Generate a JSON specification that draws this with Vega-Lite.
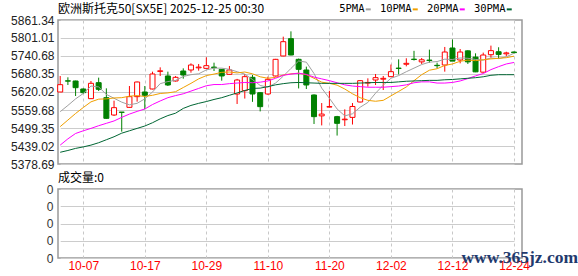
{
  "$schema": "https://vega.github.io/schema/vega-lite/v6.json",
  "background": "white",
  "padding": {"left": 9, "top": 2, "right": 0, "bottom": 0},
  "autosize": {"type": "pad"},
  "bounds": "flush",
  "spacing": 25,
  "config": {
    "font": "Liberation Sans",
    "view": {"stroke": "#999999", "strokeWidth": 1.5},
    "axis": {"titleFontSize": 0, "labelOverlap": false},
    "axisY": {"labelOverlap": false}
  },
  "datasets": {
    "k": [
      {"d":"10-02","o":5620.0,"h":5673.7,"l":5619.0,"c":5644.6,"5PMA":5554,"10PMA":5504,"20PMA":5442,"30PMA":5418,"v":0},
      {"d":"10-03","o":5657.5,"h":5669.2,"l":5643.5,"c":5656.5,"5PMA":5575,"10PMA":5526,"20PMA":5463,"30PMA":5424,"v":0},
      {"d":"10-06","o":5656.9,"h":5658.0,"l":5606.6,"c":5634.5,"5PMA":5597,"10PMA":5548,"20PMA":5481,"30PMA":5431,"v":0},
      {"d":"10-07","o":5630.1,"h":5632.0,"l":5613.3,"c":5617.8,"5PMA":5615,"10PMA":5568,"20PMA":5490,"30PMA":5436,"v":0},
      {"d":"10-08","o":5597.7,"h":5656.9,"l":5596.5,"c":5649.1,"5PMA":5640,"10PMA":5587,"20PMA":5498,"30PMA":5442,"v":0},
      {"d":"10-09","o":5651.3,"h":5668.1,"l":5623.4,"c":5629.0,"5PMA":5637,"10PMA":5596,"20PMA":5507,"30PMA":5450,"v":0},
      {"d":"10-10","o":5601.0,"h":5632.3,"l":5530.5,"c":5531.8,"5PMA":5612,"10PMA":5597,"20PMA":5515,"30PMA":5460,"v":0},
      {"d":"10-13","o":5542.9,"h":5591.0,"l":5539.6,"c":5567.5,"5PMA":5599,"10PMA":5600,"20PMA":5523,"30PMA":5470,"v":0},
      {"d":"10-14","o":5552.5,"h":5553.0,"l":5487.1,"c":5551.9,"5PMA":5586,"10PMA":5601,"20PMA":5535,"30PMA":5482,"v":0},
      {"d":"10-15","o":5568.6,"h":5640.1,"l":5567.5,"c":5604.4,"5PMA":5577,"10PMA":5606,"20PMA":5546,"30PMA":5490,"v":0},
      {"d":"10-16","o":5604.4,"h":5655.0,"l":5587.6,"c":5653.5,"5PMA":5582,"10PMA":5608,"20PMA":5555,"30PMA":5498,"v":0},
      {"d":"10-17","o":5620.0,"h":5640.1,"l":5561.9,"c":5608.9,"5PMA":5597,"10PMA":5605,"20PMA":5563,"30PMA":5506,"v":0},
      {"d":"10-20","o":5630.1,"h":5688.2,"l":5629.0,"c":5680.3,"5PMA":5620,"10PMA":5609,"20PMA":5578,"30PMA":5517,"v":0},
      {"d":"10-21","o":5689.0,"h":5702.7,"l":5673.7,"c":5691.0,"5PMA":5648,"10PMA":5615,"20PMA":5590,"30PMA":5530,"v":0},
      {"d":"10-22","o":5673.7,"h":5688.2,"l":5640.1,"c":5643.5,"5PMA":5655,"10PMA":5617,"20PMA":5601,"30PMA":5541,"v":0},
      {"d":"10-23","o":5656.9,"h":5673.7,"l":5655.0,"c":5669.2,"5PMA":5659,"10PMA":5621,"20PMA":5608,"30PMA":5549,"v":0},
      {"d":"10-24","o":5690.4,"h":5699.3,"l":5664.7,"c":5677.0,"5PMA":5672,"10PMA":5635,"20PMA":5614,"30PMA":5565,"v":0},
      {"d":"10-27","o":5693.8,"h":5716.1,"l":5684.8,"c":5710.5,"5PMA":5678,"10PMA":5649,"20PMA":5623,"30PMA":5575,"v":0},
      {"d":"10-28","o":5701.0,"h":5713.9,"l":5691.5,"c":5703.5,"5PMA":5681,"10PMA":5664,"20PMA":5632,"30PMA":5582,"v":0},
      {"d":"10-29","o":5699.3,"h":5736.2,"l":5698.0,"c":5708.3,"5PMA":5694,"10PMA":5675,"20PMA":5641,"30PMA":5588,"v":0},
      {"d":"10-30","o":5703.5,"h":5718.3,"l":5690.4,"c":5702.0,"5PMA":5700,"10PMA":5680,"20PMA":5645,"30PMA":5595,"v":0},
      {"d":"10-31","o":5696.0,"h":5697.0,"l":5658.0,"c":5673.7,"5PMA":5700,"10PMA":5686,"20PMA":5645,"30PMA":5601,"v":0},
      {"d":"11-03","o":5679.2,"h":5707.2,"l":5678.0,"c":5693.8,"5PMA":5696,"10PMA":5687,"20PMA":5648,"30PMA":5609,"v":0},
      {"d":"11-04","o":5613.3,"h":5664.0,"l":5579.8,"c":5660.2,"5PMA":5688,"10PMA":5684,"20PMA":5650,"30PMA":5617,"v":0},
      {"d":"11-05","o":5624.5,"h":5680.3,"l":5598.0,"c":5671.4,"5PMA":5680,"10PMA":5687,"20PMA":5652,"30PMA":5625,"v":0},
      {"d":"11-06","o":5669.2,"h":5677.0,"l":5587.0,"c":5613.3,"5PMA":5662,"10PMA":5681,"20PMA":5651,"30PMA":5632,"v":0},
      {"d":"11-07","o":5617.8,"h":5620.0,"l":5555.0,"c":5570.9,"5PMA":5642,"10PMA":5671,"20PMA":5653,"30PMA":5633,"v":0},
      {"d":"11-10","o":5613.3,"h":5671.4,"l":5611.0,"c":5662.5,"5PMA":5636,"10PMA":5666,"20PMA":5657,"30PMA":5638,"v":0},
      {"d":"11-11","o":5673.7,"h":5731.0,"l":5672.0,"c":5729.5,"5PMA":5650,"10PMA":5669,"20PMA":5666,"30PMA":5644,"v":0},
      {"d":"11-12","o":5740.7,"h":5805.5,"l":5740.0,"c":5788.7,"5PMA":5673,"10PMA":5677,"20PMA":5676,"30PMA":5648,"v":0},
      {"d":"11-13","o":5798.8,"h":5823.3,"l":5743.0,"c":5744.0,"5PMA":5699,"10PMA":5681,"20PMA":5680,"30PMA":5651,"v":0},
      {"d":"11-14","o":5729.5,"h":5732.0,"l":5632.0,"c":5696.0,"5PMA":5724,"10PMA":5683,"20PMA":5683,"30PMA":5652,"v":0},
      {"d":"11-17","o":5693.8,"h":5705.0,"l":5630.0,"c":5643.5,"5PMA":5720,"10PMA":5678,"20PMA":5679,"30PMA":5651,"v":0},
      {"d":"11-18","o":5610.0,"h":5612.0,"l":5512.8,"c":5537.4,"5PMA":5682,"10PMA":5666,"20PMA":5670,"30PMA":5650,"v":0},
      {"d":"11-19","o":5540.0,"h":5583.0,"l":5508.0,"c":5546.0,"5PMA":5633,"10PMA":5653,"20PMA":5664,"30PMA":5649,"v":0},
      {"d":"11-20","o":5569.5,"h":5624.0,"l":5568.5,"c":5571.0,"5PMA":5599,"10PMA":5649,"20PMA":5658,"30PMA":5649,"v":0},
      {"d":"11-21","o":5537.4,"h":5540.0,"l":5474.0,"c":5515.0,"5PMA":5563,"10PMA":5643,"20PMA":5651,"30PMA":5649,"v":0},
      {"d":"11-24","o":5527.0,"h":5561.9,"l":5506.0,"c":5529.0,"5PMA":5540,"10PMA":5630,"20PMA":5644,"30PMA":5649,"v":0},
      {"d":"11-25","o":5535.0,"h":5583.0,"l":5511.0,"c":5571.5,"5PMA":5547,"10PMA":5614,"20PMA":5640,"30PMA":5649,"v":0},
      {"d":"11-26","o":5586.5,"h":5660.0,"l":5585.0,"c":5658.0,"5PMA":5569,"10PMA":5601,"20PMA":5638,"30PMA":5650,"v":0},
      {"d":"11-27","o":5650.0,"h":5665.8,"l":5637.9,"c":5652.0,"5PMA":5585,"10PMA":5592,"20PMA":5636,"30PMA":5651,"v":0},
      {"d":"11-28","o":5660.2,"h":5680.3,"l":5643.5,"c":5668.1,"5PMA":5616,"10PMA":5589,"20PMA":5636,"30PMA":5652,"v":0},
      {"d":"12-01","o":5663.0,"h":5673.7,"l":5626.7,"c":5665.8,"5PMA":5643,"10PMA":5592,"20PMA":5636,"30PMA":5652,"v":0},
      {"d":"12-02","o":5671.4,"h":5712.0,"l":5670.0,"c":5688.2,"5PMA":5666,"10PMA":5607,"20PMA":5638,"30PMA":5652,"v":0},
      {"d":"12-03","o":5700.0,"h":5729.5,"l":5679.0,"c":5699.0,"5PMA":5675,"10PMA":5622,"20PMA":5640,"30PMA":5654,"v":0},
      {"d":"12-04","o":5713.0,"h":5733.0,"l":5706.0,"c":5716.1,"5PMA":5688,"10PMA":5637,"20PMA":5644,"30PMA":5656,"v":0},
      {"d":"12-05","o":5730.0,"h":5758.0,"l":5725.5,"c":5729.0,"5PMA":5700,"10PMA":5658,"20PMA":5651,"30PMA":5657,"v":0},
      {"d":"12-08","o":5721.0,"h":5734.0,"l":5713.9,"c":5728.0,"5PMA":5712,"10PMA":5678,"20PMA":5654,"30PMA":5658,"v":0},
      {"d":"12-09","o":5727.0,"h":5762.0,"l":5718.3,"c":5725.5,"5PMA":5720,"10PMA":5693,"20PMA":5654,"30PMA":5659,"v":0},
      {"d":"12-10","o":5709.5,"h":5718.3,"l":5699.3,"c":5708.3,"5PMA":5722,"10PMA":5698,"20PMA":5650,"30PMA":5659,"v":0},
      {"d":"12-11","o":5710.5,"h":5771.0,"l":5688.2,"c":5754.0,"5PMA":5730,"10PMA":5709,"20PMA":5650,"30PMA":5661,"v":0},
      {"d":"12-12","o":5767.5,"h":5796.0,"l":5724.0,"c":5723.5,"5PMA":5729,"10PMA":5714,"20PMA":5652,"30PMA":5662,"v":0},
      {"d":"12-15","o":5727.3,"h":5764.1,"l":5716.1,"c":5754.0,"5PMA":5734,"10PMA":5723,"20PMA":5657,"30PMA":5664,"v":0},
      {"d":"12-16","o":5758.0,"h":5760.0,"l":5714.0,"c":5721.0,"5PMA":5733,"10PMA":5727,"20PMA":5665,"30PMA":5666,"v":0},
      {"d":"12-17","o":5737.0,"h":5749.6,"l":5686.5,"c":5687.5,"5PMA":5729,"10PMA":5725,"20PMA":5674,"30PMA":5668,"v":0},
      {"d":"12-18","o":5686.5,"h":5752.0,"l":5685.0,"c":5744.0,"5PMA":5727,"10PMA":5728,"20PMA":5682,"30PMA":5671,"v":0},
      {"d":"12-19","o":5745.0,"h":5775.5,"l":5735.0,"c":5758.6,"5PMA":5734,"10PMA":5731,"20PMA":5695,"30PMA":5676,"v":0},
      {"d":"12-22","o":5755.0,"h":5770.0,"l":5731.0,"c":5746.0,"5PMA":5732,"10PMA":5733,"20PMA":5705,"30PMA":5678,"v":0},
      {"d":"12-23","o":5748.0,"h":5755.0,"l":5740.0,"c":5751.0,"5PMA":5738,"10PMA":5735,"20PMA":5714,"30PMA":5678,"v":0},
      {"d":"12-24","o":5754.0,"h":5756.0,"l":5749.0,"c":5752.0,"5PMA":5750,"10PMA":5740,"20PMA":5719,"30PMA":5678,"v":0}
    ]
  },
  "title": {
    "text": "www.365jz.com",
    "orient": "bottom",
    "anchor": "end",
    "font": "Liberation Serif",
    "fontSize": 17.5,
    "fontWeight": "bold",
    "color": "#1f3a6e",
    "offset": -23,
    "dx": 48
  },
  "vconcat": [
    {
      "width": 464,
      "height": 144,
      "data": {"name": "k"},
      "title": {
        "text": "欧洲斯托克50[SX5E] 2025-12-25 00:30",
        "anchor": "start",
        "frame": "group",
        "font": "Noto Sans CJK SC",
        "fontSize": 12,
        "fontWeight": "normal",
        "color": "#000000",
        "offset": -2
      },
      "encoding": {
        "x": {
          "field": "d", "type": "ordinal", "sort": null,
          "scale": {"type": "point", "range": [2.2, 456], "padding": 0},
          "axis": {
            "values": ["10-07","10-17","10-29","11-10","11-20","12-02","12-12","12-24"],
            "labels": false, "ticks": false, "domain": false, "title": null,
            "grid": true, "gridDash": [3, 3], "gridColor": "#c8c8c8", "gridWidth": 1
          }
        },
        "y": {
          "type": "quantitative",
          "scale": {"domain": [5378.69, 5861.34], "nice": false, "zero": false},
          "axis": {
            "values": [5378.69, 5439.02, 5499.35, 5559.68, 5620.02, 5680.35, 5740.68, 5801.01, 5861.34],
            "format": ".2f", "title": null, "ticks": false, "domain": false, "labelOverlap": false,
            "grid": true, "gridColor": "#cccccc", "gridWidth": 1,
            "labelFont": "Liberation Sans", "labelFontSize": 12, "labelColor": "#222222", "labelPadding": 4
          }
        }
      },
      "layer": [
        {
          "mark": {"type": "rule", "strokeWidth": 1},
          "encoding": {
            "y": {"field": "l", "type": "quantitative"},
            "y2": {"field": "h"},
            "color": {"condition": {"test": "datum.c >= datum.o", "value": "#ff0000"}, "value": "#008000"}
          }
        },
        {
          "mark": {"type": "bar", "width": 5, "strokeWidth": 1},
          "encoding": {
            "y": {"field": "o", "type": "quantitative"},
            "y2": {"field": "c"},
            "fill": {"condition": {"test": "datum.c >= datum.o", "value": "#ffffff"}, "value": "#008000"},
            "stroke": {"condition": {"test": "datum.c >= datum.o", "value": "#ff0000"}, "value": "#008000"}
          }
        },
        {
          "transform": [{"fold": ["5PMA", "10PMA", "20PMA", "30PMA"], "as": ["series", "value"]}],
          "mark": {"type": "line", "strokeWidth": 1},
          "encoding": {
            "y": {"field": "value", "type": "quantitative"},
            "color": {
              "field": "series", "type": "nominal",
              "scale": {"domain": ["5PMA", "10PMA", "20PMA", "30PMA"], "range": ["#a0a0a0", "#f0a000", "#ff00ff", "#006633"]},
              "legend": {
                "orient": "none", "legendX": 305, "legendY": -16,
                "direction": "horizontal", "title": null,
                "symbolType": "stroke", "symbolStrokeWidth": 2, "symbolSize": 25,
                "labelFont": "DejaVu Sans Mono", "labelFontSize": 10.5, "labelColor": "#000000",
                "labelAlign": "right", "labelOffset": -9, "columnPadding": 4
              }
            }
          }
        }
      ]
    },
    {
      "width": 464,
      "height": 69,
      "data": {"name": "k"},
      "title": {
        "text": "成交量:0",
        "anchor": "start",
        "frame": "group",
        "font": "Noto Sans CJK SC",
        "fontSize": 12,
        "fontWeight": "normal",
        "color": "#000000",
        "offset": -2
      },
      "encoding": {
        "x": {
          "field": "d", "type": "ordinal", "sort": null,
          "scale": {"type": "point", "range": [2.2, 456], "padding": 0},
          "axis": {
            "values": ["10-07","10-17","10-29","11-10","11-20","12-02","12-12","12-24"],
            "labelAngle": 0, "labelColor": "#ff0000", "labelFont": "Liberation Sans", "labelFontSize": 12,
            "labelPadding": 2, "ticks": false, "domain": false, "title": null,
            "grid": true, "gridDash": [3, 3], "gridColor": "#c8c8c8", "gridWidth": 1
          }
        },
        "y": {
          "type": "quantitative",
          "scale": {"domain": [0, 4], "nice": false, "zero": true},
          "axis": {
            "values": [0, 1, 2, 3, 4], "labelExpr": "'0'", "labelOverlap": false, "tickCount": 5,
            "title": null, "ticks": false, "domain": false,
            "grid": true, "gridColor": "#cccccc", "gridWidth": 1,
            "labelFont": "Liberation Sans", "labelFontSize": 12, "labelColor": "#333333", "labelPadding": 5
          }
        }
      },
      "layer": [
        {
          "mark": {"type": "bar", "width": 5, "color": "#008000"},
          "encoding": {
            "y": {"field": "v", "type": "quantitative", "stack": null}
          }
        }
      ]
    }
  ]
}
